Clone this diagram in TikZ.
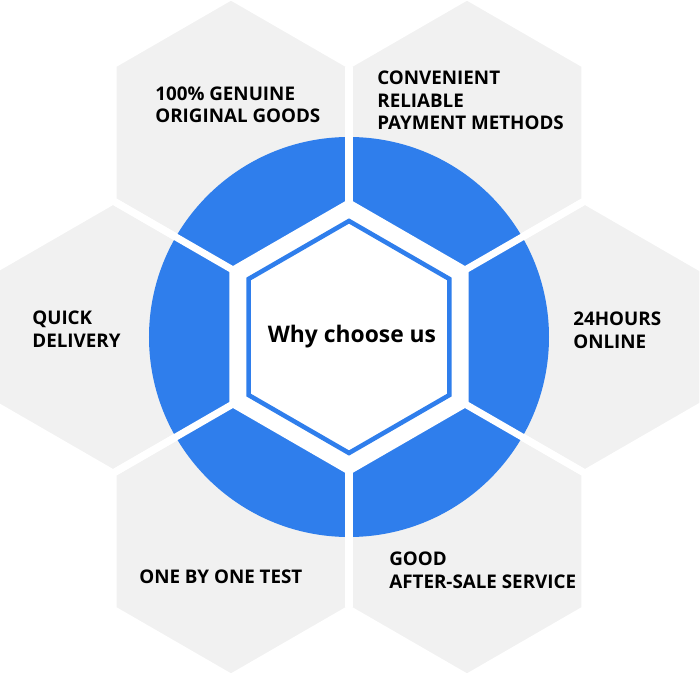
\documentclass[tikz,border=0pt]{standalone}
\usepackage{fontspec}
\setmainfont{Open Sans}
\usetikzlibrary{positioning}
\definecolor{tilegray}{RGB}{241,241,241}
\definecolor{ringblue}{RGB}{47,126,236}

\begin{document}
\begin{tikzpicture}[
    x=0.02cm, y=0.02cm,
    every node/.style={font=\bfseries\fontsize{10.7}{13}\selectfont, inner sep=0pt, align=left},
    tile/.style={fill=tilegray, draw=white, line width=4pt},
    gap/.style={draw=white, line width=4pt},
    lbl/.style={anchor=base west}
]
\useasboundingbox (-349,-363) rectangle (351,337);

\foreach \a in {0,60,...,300}
    \filldraw[tile, shift={(\a:236)}] (30:136) -- (90:136) -- (150:136) -- (210:136) -- (270:136) -- (330:136) -- cycle;

\fill[ringblue] (0,0) circle (200);
\foreach \a in {30,90,...,330}
    \draw[gap] (\a:130) -- (\a:270);

\fill[white] (30:138) -- (90:138) -- (150:138) -- (210:138) -- (270:138) -- (330:138) -- cycle;
\filldraw[fill=white, draw=ringblue, line width=2.6pt] (30:116) -- (90:116) -- (150:116) -- (210:116) -- (270:116) -- (330:116) -- cycle;

\node[anchor=base, font=\bfseries\fontsize{13}{16}\selectfont] (why) at (3,-5) {Why choose us};

\node[lbl] (genuine) at (-194,214) {100\% GENUINE\\ORIGINAL GOODS};
\node[lbl] (payment) at (28,207) {CONVENIENT\\RELIABLE\\PAYMENT METHODS};
\node[lbl] (delivery) at (-317,-10) {QUICK\\DELIVERY};
\node[lbl] (online) at (224,-11) {24HOURS\\ONLINE};
\node[lbl] (test) at (-210,-246) {ONE BY ONE TEST};
\node[lbl] (service) at (40,-251) {GOOD\\AFTER-SALE SERVICE};

\end{tikzpicture}
\end{document}
